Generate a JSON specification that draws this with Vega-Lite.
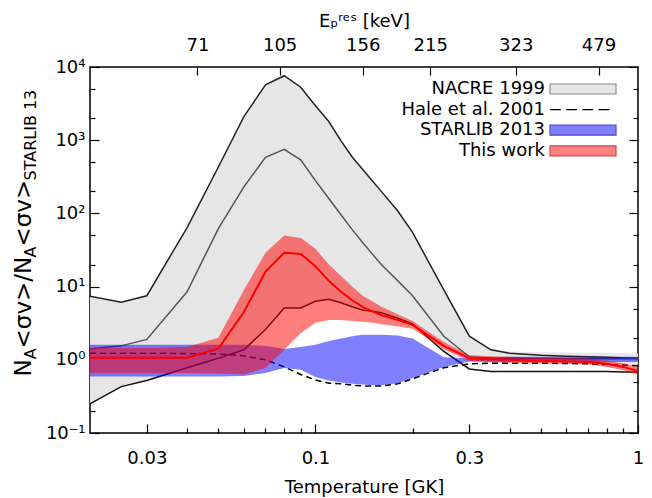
{
  "$schema": "https://vega.github.io/schema/vega-lite/v6.json",
  "width": 548,
  "height": 366,
  "autosize": {"type": "none"},
  "padding": {"left": 90, "top": 67, "right": 14, "bottom": 65},
  "config": {
    "font": "DejaVu Sans",
    "view": {"stroke": "#000000", "strokeWidth": 1.5},
    "axis": {"grid": false, "domain": false, "labelFont": "DejaVu Sans", "titleFont": "DejaVu Sans", "labelFontSize": 18, "titleFontSize": 18, "labelColor": "#000000", "titleColor": "#000000", "tickColor": "#000000", "tickWidth": 1.2, "titleFontWeight": "normal", "labelFlush": false, "labelOverlap": false, "labelBound": false, "zindex": 1},
    "legend": {"orient": "none", "legendX": 484, "legendY": 13, "padding": 0, "rowPadding": 2.6, "labelFont": "DejaVu Sans", "labelFontSize": 18, "labelColor": "#000000", "labelAlign": "right", "labelOffset": -47, "symbolSize": 144, "symbolStrokeWidth": 1.2, "symbolOpacity": 1, "title": null, "labelLimit": 300}
  },
  "datasets": {
    "nacre": [
      {"T": 0.02, "lo": 0.25, "hi": 7.4}, {"T": 0.025, "lo": 0.43, "hi": 6.1}, {"T": 0.03, "lo": 0.52, "hi": 7.5},
      {"T": 0.04, "lo": 0.78, "hi": 64}, {"T": 0.05, "lo": 1.05, "hi": 430}, {"T": 0.06, "lo": 1.37, "hi": 2100},
      {"T": 0.07, "lo": 2.6, "hi": 5700}, {"T": 0.08, "lo": 5.1, "hi": 7600}, {"T": 0.09, "lo": 5.1, "hi": 5300},
      {"T": 0.1, "lo": 6.3, "hi": 2950}, {"T": 0.11, "lo": 6.7, "hi": 1800}, {"T": 0.12, "lo": 6.0, "hi": 980},
      {"T": 0.13, "lo": 5.3, "hi": 590}, {"T": 0.14, "lo": 4.8, "hi": 400}, {"T": 0.15, "lo": 4.6, "hi": 280},
      {"T": 0.16, "lo": 4.4, "hi": 200}, {"T": 0.18, "lo": 3.7, "hi": 108}, {"T": 0.2, "lo": 3.1, "hi": 55},
      {"T": 0.25, "lo": 1.3, "hi": 9}, {"T": 0.3, "lo": 0.95, "hi": 2.1}, {"T": 0.35, "lo": 0.9, "hi": 1.4},
      {"T": 0.4, "lo": 0.9, "hi": 1.3}, {"T": 0.5, "lo": 0.88, "hi": 1.27}, {"T": 0.6, "lo": 0.88, "hi": 1.26},
      {"T": 0.7, "lo": 0.87, "hi": 1.25}, {"T": 0.8, "lo": 0.87, "hi": 1.24}, {"T": 0.9, "lo": 0.86, "hi": 1.23},
      {"T": 1.0, "lo": 0.86, "hi": 1.22}
    ],
    "curves": [
      {"T": 0.02, "up": 7.4, "mid": 1.4, "low": 0.25}, {"T": 0.025, "up": 6.1, "mid": 1.55, "low": 0.43},
      {"T": 0.03, "up": 7.5, "mid": 1.9, "low": 0.52}, {"T": 0.04, "up": 64, "mid": 8.5, "low": 0.78},
      {"T": 0.05, "up": 430, "mid": 62, "low": 1.05}, {"T": 0.06, "up": 2100, "mid": 230, "low": 1.37},
      {"T": 0.07, "up": 5700, "mid": 585, "low": 2.6}, {"T": 0.08, "up": 7600, "mid": 750, "low": 5.1},
      {"T": 0.09, "up": 5300, "mid": 540, "low": 5.1}, {"T": 0.1, "up": 2950, "mid": 280, "low": 6.3},
      {"T": 0.11, "up": 1800, "mid": 160, "low": 6.7}, {"T": 0.12, "up": 980, "mid": 96, "low": 6.0},
      {"T": 0.13, "up": 590, "mid": 60, "low": 5.3}, {"T": 0.14, "up": 400, "mid": 40, "low": 4.8},
      {"T": 0.15, "up": 280, "mid": 28, "low": 4.6}, {"T": 0.16, "up": 200, "mid": 20, "low": 4.4},
      {"T": 0.18, "up": 108, "mid": 12, "low": 3.7}, {"T": 0.2, "up": 55, "mid": 7.5, "low": 3.1},
      {"T": 0.25, "up": 9, "mid": 2.1, "low": 1.3}, {"T": 0.3, "up": 2.1, "mid": 1.1, "low": 0.75},
      {"T": 0.35, "up": 1.37, "mid": 1.06, "low": 0.69}, {"T": 0.4, "up": 1.23, "mid": 1.05, "low": 0.69},
      {"T": 0.5, "up": 1.15, "mid": 1.04, "low": 0.69}, {"T": 0.6, "up": 1.12, "mid": 1.03, "low": 0.69},
      {"T": 0.7, "up": 1.1, "mid": 1.03, "low": 0.69}, {"T": 0.8, "up": 1.08, "mid": 1.03, "low": 0.69},
      {"T": 0.9, "up": 1.06, "mid": 1.03, "low": 0.68}, {"T": 1.0, "up": 1.05, "mid": 1.03, "low": 0.68}
    ],
    "hale": [
      {"T": 0.02, "v": 1.23}, {"T": 0.025, "v": 1.23}, {"T": 0.03, "v": 1.23}, {"T": 0.04, "v": 1.22},
      {"T": 0.05, "v": 1.2}, {"T": 0.06, "v": 1.13}, {"T": 0.07, "v": 1.0}, {"T": 0.08, "v": 0.8},
      {"T": 0.09, "v": 0.63}, {"T": 0.1, "v": 0.53}, {"T": 0.11, "v": 0.48}, {"T": 0.12, "v": 0.47},
      {"T": 0.13, "v": 0.45}, {"T": 0.14, "v": 0.44}, {"T": 0.15, "v": 0.44}, {"T": 0.16, "v": 0.44},
      {"T": 0.18, "v": 0.47}, {"T": 0.2, "v": 0.55}, {"T": 0.25, "v": 0.78}, {"T": 0.3, "v": 0.88},
      {"T": 0.35, "v": 0.9}, {"T": 0.4, "v": 0.9}, {"T": 0.5, "v": 0.9}, {"T": 0.6, "v": 0.89},
      {"T": 0.7, "v": 0.88}, {"T": 0.8, "v": 0.86}, {"T": 0.9, "v": 0.85}, {"T": 1.0, "v": 0.83}
    ],
    "starlib": [
      {"T": 0.02, "lo": 0.59, "hi": 1.6}, {"T": 0.025, "lo": 0.59, "hi": 1.6}, {"T": 0.03, "lo": 0.59, "hi": 1.6},
      {"T": 0.04, "lo": 0.59, "hi": 1.6}, {"T": 0.05, "lo": 0.59, "hi": 1.6}, {"T": 0.06, "lo": 0.6, "hi": 1.6},
      {"T": 0.07, "lo": 0.66, "hi": 1.55}, {"T": 0.08, "lo": 0.77, "hi": 1.4}, {"T": 0.09, "lo": 0.73, "hi": 1.5},
      {"T": 0.1, "lo": 0.58, "hi": 1.6}, {"T": 0.11, "lo": 0.52, "hi": 1.8}, {"T": 0.12, "lo": 0.49, "hi": 1.95},
      {"T": 0.13, "lo": 0.47, "hi": 2.1}, {"T": 0.14, "lo": 0.46, "hi": 2.2}, {"T": 0.15, "lo": 0.45, "hi": 2.2},
      {"T": 0.16, "lo": 0.45, "hi": 2.2}, {"T": 0.18, "lo": 0.48, "hi": 2.15}, {"T": 0.2, "lo": 0.56, "hi": 1.95},
      {"T": 0.25, "lo": 0.8, "hi": 1.08}, {"T": 0.3, "lo": 0.95, "hi": 1.04}, {"T": 0.35, "lo": 0.94, "hi": 1.08},
      {"T": 0.4, "lo": 0.93, "hi": 1.1}, {"T": 0.5, "lo": 0.93, "hi": 1.1}, {"T": 0.6, "lo": 0.93, "hi": 1.1},
      {"T": 0.7, "lo": 0.93, "hi": 1.1}, {"T": 0.8, "lo": 0.93, "hi": 1.1}, {"T": 0.9, "lo": 0.93, "hi": 1.1},
      {"T": 1.0, "lo": 0.93, "hi": 1.1}
    ],
    "thiswork": [
      {"T": 0.02, "lo": 0.66, "hi": 1.45, "rec": 1.07}, {"T": 0.025, "lo": 0.66, "hi": 1.45, "rec": 1.07},
      {"T": 0.03, "lo": 0.66, "hi": 1.45, "rec": 1.07}, {"T": 0.04, "lo": 0.66, "hi": 1.5, "rec": 1.07},
      {"T": 0.05, "lo": 0.65, "hi": 2.0, "rec": 1.42}, {"T": 0.06, "lo": 0.63, "hi": 9, "rec": 4.5},
      {"T": 0.07, "lo": 0.77, "hi": 29, "rec": 16}, {"T": 0.08, "lo": 1.37, "hi": 50, "rec": 29},
      {"T": 0.09, "lo": 2.3, "hi": 46, "rec": 28}, {"T": 0.1, "lo": 3.2, "hi": 33, "rec": 19},
      {"T": 0.11, "lo": 3.5, "hi": 20, "rec": 12}, {"T": 0.12, "lo": 3.5, "hi": 14, "rec": 8.5},
      {"T": 0.13, "lo": 3.4, "hi": 10, "rec": 6.5}, {"T": 0.14, "lo": 3.3, "hi": 7.5, "rec": 5.3},
      {"T": 0.15, "lo": 3.2, "hi": 6.3, "rec": 4.6}, {"T": 0.16, "lo": 3.05, "hi": 5.3, "rec": 4.1},
      {"T": 0.18, "lo": 2.85, "hi": 4.2, "rec": 3.5}, {"T": 0.2, "lo": 2.65, "hi": 3.4, "rec": 3.0},
      {"T": 0.25, "lo": 1.4, "hi": 1.75, "rec": 1.55}, {"T": 0.3, "lo": 0.97, "hi": 1.15, "rec": 1.05},
      {"T": 0.35, "lo": 0.93, "hi": 1.12, "rec": 1.02}, {"T": 0.4, "lo": 0.92, "hi": 1.1, "rec": 1.0},
      {"T": 0.5, "lo": 0.9, "hi": 1.08, "rec": 0.97}, {"T": 0.6, "lo": 0.88, "hi": 1.06, "rec": 0.95},
      {"T": 0.7, "lo": 0.86, "hi": 1.04, "rec": 0.93}, {"T": 0.8, "lo": 0.8, "hi": 0.97, "rec": 0.88},
      {"T": 0.9, "lo": 0.72, "hi": 0.9, "rec": 0.8}, {"T": 1.0, "lo": 0.62, "hi": 0.8, "rec": 0.7}
    ],
    "legend": [
      {"series": "NACRE 1999"}, {"series": "Hale et al. 2001"}, {"series": "STARLIB 2013"}, {"series": "This work"}
    ]
  },
  "resolve": {"axis": {"x": "independent", "y": "independent"}},
  "layer": [
    {
      "data": {"name": "nacre"},
      "mark": {"type": "area", "color": "#e6e6e6", "clip": true},
      "encoding": {
        "x": {"field": "T", "type": "quantitative", "scale": {"type": "log", "domain": [0.02, 1], "nice": false},
              "axis": {"orient": "bottom", "values": [0.03, 0.1, 0.3, 1], "format": "~g", "tickSize": -9, "labelPadding": 25, "title": "Temperature [GK]", "titlePadding": 11}},
        "y": {"field": "lo", "type": "quantitative", "scale": {"type": "log", "domain": [0.1, 10000], "nice": false},
              "axis": {"orient": "left", "values": [0.1, 1, 10, 100, 1000, 10000], "tickSize": -9, "labelPadding": 14,
                       "labelExpr": "datum.value < 0.5 ? '10⁻¹' : datum.value < 5 ? '10⁰' : datum.value < 50 ? '10¹' : datum.value < 500 ? '10²' : datum.value < 5000 ? '10³' : '10⁴'",
                       "title": "N", "titleFontSize": 23, "titleX": -60, "titleY": 309, "titleAngle": 270, "titleAlign": "left", "titleBaseline": "alphabetic"}},
        "y2": {"field": "hi"}
      }
    },
    {
      "data": {"name": "curves"},
      "mark": {"type": "line", "color": "#222222", "strokeWidth": 1.5, "clip": true},
      "encoding": {
        "x": {"field": "T", "type": "quantitative",
              "axis": {"orient": "bottom", "values": [0.04, 0.05, 0.06, 0.07, 0.08, 0.09, 0.2, 0.4, 0.5, 0.6, 0.7, 0.8, 0.9], "labels": false, "tickSize": -5, "title": null}},
        "y": {"field": "up", "type": "quantitative",
              "axis": {"orient": "left", "values": [0.2, 0.5, 2, 5, 20, 50, 200, 500, 2000, 5000], "labels": false, "tickSize": -5,
                       "title": "A", "titleFontSize": 16, "titleX": -55, "titleY": 291.8, "titleAngle": 270, "titleAlign": "left", "titleBaseline": "alphabetic"}}
      }
    },
    {
      "data": {"name": "curves"},
      "mark": {"type": "line", "color": "#555555", "strokeWidth": 1.5, "clip": true},
      "encoding": {
        "x": {"field": "T", "type": "quantitative",
              "axis": {"orient": "top", "values": [0.04305, 0.07743, 0.1402, 0.2269, 0.4177, 0.7544], "tickSize": -8, "labelPadding": 21,
                       "labelExpr": "datum.value < 0.05 ? '71' : datum.value < 0.1 ? '105' : datum.value < 0.18 ? '156' : datum.value < 0.3 ? '215' : datum.value < 0.6 ? '323' : '479'",
                       "title": "Eₚʳᵉˢ [keV]", "titlePadding": 6}},
        "y": {"field": "mid", "type": "quantitative",
              "axis": {"orient": "right", "values": [0.1, 1, 10, 100, 1000, 10000], "labels": false, "tickSize": -9, "title": null}}
      }
    },
    {
      "data": {"name": "curves"},
      "mark": {"type": "line", "color": "#111111", "strokeWidth": 1.5, "clip": true},
      "encoding": {
        "x": {"field": "T", "type": "quantitative", "axis": null},
        "y": {"field": "low", "type": "quantitative",
              "axis": {"orient": "right", "values": [0.2, 0.5, 2, 5, 20, 50, 200, 500, 2000, 5000], "labels": false, "tickSize": -5, "title": null}}
      }
    },
    {
      "data": {"name": "hale"},
      "mark": {"type": "line", "color": "#000000", "strokeWidth": 1.5, "strokeDash": [6, 4], "clip": true},
      "encoding": {
        "x": {"field": "T", "type": "quantitative", "axis": null},
        "y": {"field": "v", "type": "quantitative",
              "axis": {"orient": "left", "ticks": false, "labels": false, "title": "<σv>/N", "titleFontSize": 23, "titleX": -60, "titleY": 280.9, "titleAngle": 270, "titleAlign": "left", "titleBaseline": "alphabetic"}}
      }
    },
    {
      "mark": {"type": "rule", "color": "#555555", "strokeWidth": 1.5},
      "encoding": {"y": {"datum": 1, "type": "quantitative", "axis": null}}
    },
    {
      "data": {"name": "starlib"},
      "mark": {"type": "area", "color": "#0000ff", "opacity": 0.5, "clip": true},
      "encoding": {
        "x": {"field": "T", "type": "quantitative", "axis": null},
        "y": {"field": "lo", "type": "quantitative",
              "axis": {"orient": "left", "ticks": false, "labels": false, "title": "A", "titleFontSize": 16, "titleX": -55, "titleY": 189.9, "titleAngle": 270, "titleAlign": "left", "titleBaseline": "alphabetic"}},
        "y2": {"field": "hi"}
      }
    },
    {
      "data": {"name": "thiswork"},
      "mark": {"type": "area", "color": "#ff0000", "opacity": 0.5, "clip": true},
      "encoding": {
        "x": {"field": "T", "type": "quantitative", "axis": null},
        "y": {"field": "lo", "type": "quantitative",
              "axis": {"orient": "left", "ticks": false, "labels": false, "title": "<σv>", "titleFontSize": 23, "titleX": -60, "titleY": 179, "titleAngle": 270, "titleAlign": "left", "titleBaseline": "alphabetic"}},
        "y2": {"field": "hi"}
      }
    },
    {
      "data": {"name": "thiswork"},
      "mark": {"type": "line", "color": "#ff0000", "strokeWidth": 2, "clip": true},
      "encoding": {
        "x": {"field": "T", "type": "quantitative", "axis": null},
        "y": {"field": "rec", "type": "quantitative",
              "axis": {"orient": "left", "ticks": false, "labels": false, "title": "STARLIB 13", "titleFontSize": 16, "titleX": -55, "titleY": 113, "titleAngle": 270, "titleAlign": "left", "titleBaseline": "alphabetic"}}
      }
    },
    {
      "data": {"name": "legend"},
      "mark": {"type": "point", "filled": true, "opacity": 0},
      "encoding": {
        "fill": {"field": "series", "type": "nominal",
                 "scale": {"domain": ["NACRE 1999", "Hale et al. 2001", "STARLIB 2013", "This work"], "range": ["#e6e6e6", "transparent", "#8080ff", "#ff8080"]},
                 "legend": {"symbolOpacity": 1, "encode": {"symbols": {"update": {"opacity": {"value": 1}}}}}},
        "stroke": {"field": "series", "type": "nominal",
                   "scale": {"domain": ["NACRE 1999", "Hale et al. 2001", "STARLIB 2013", "This work"], "range": ["#8c8c8c", "#000000", "#4d4dbf", "#bf4d4d"]},
                   "legend": {"symbolOpacity": 1, "encode": {"symbols": {"update": {"opacity": {"value": 1}}}}}},
        "shape": {"field": "series", "type": "nominal",
                  "scale": {"domain": ["NACRE 1999", "Hale et al. 2001", "STARLIB 2013", "This work"],
                            "range": ["M-5.5,-0.83L5.5,-0.83L5.5,0.83L-5.5,0.83Z", "M-5.5,0L-3.7,0M-2.8,0L-1,0M-0.1,0L1.7,0M2.6,0L4.4,0", "M-5.5,-0.83L5.5,-0.83L5.5,0.83L-5.5,0.83Z", "M-5.5,-0.83L5.5,-0.83L5.5,0.83L-5.5,0.83Z"]},
                  "legend": {"symbolOpacity": 1, "encode": {"symbols": {"update": {"opacity": {"value": 1}}}}}}
      }
    }
  ]
}
